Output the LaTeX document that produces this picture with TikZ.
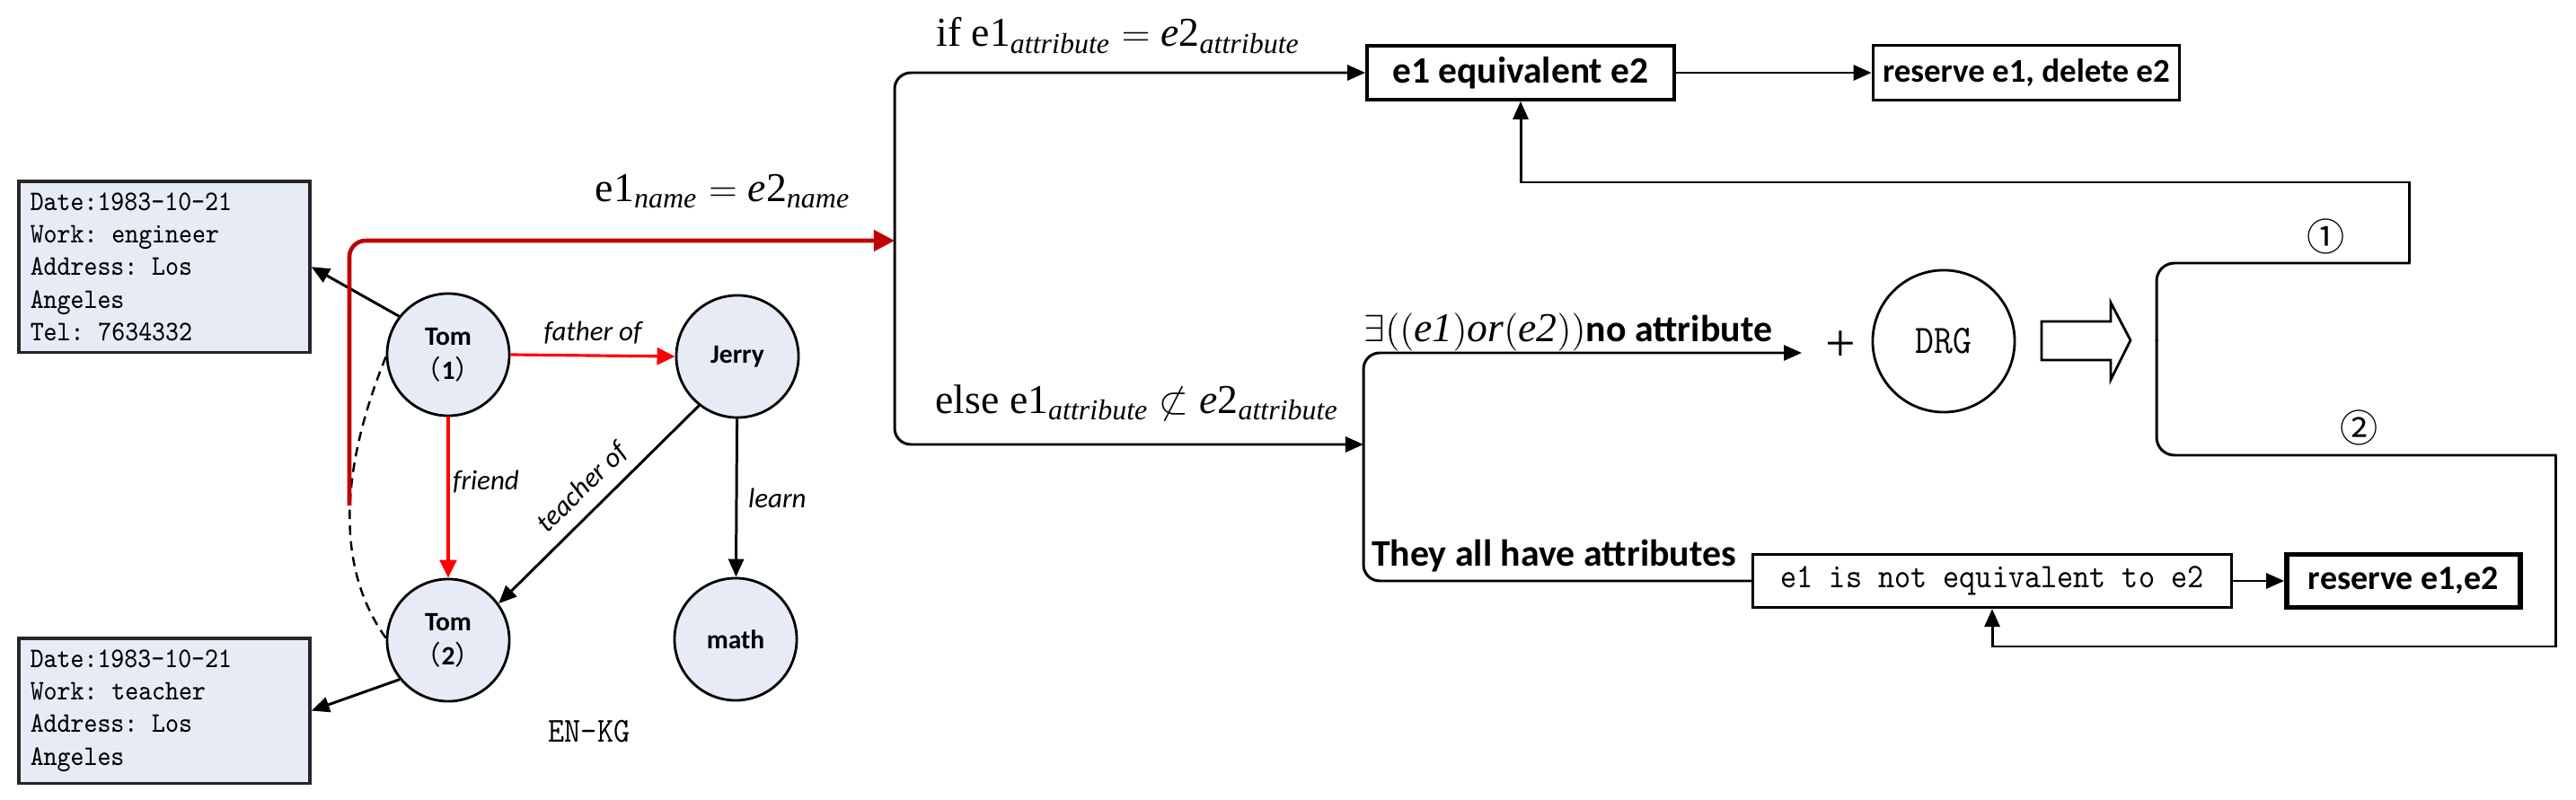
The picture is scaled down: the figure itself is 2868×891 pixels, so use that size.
\documentclass[tikz,border=0pt]{standalone}
\usepackage{fontspec}
\setmainfont{Liberation Serif}
\newfontfamily\calib{Carlito}
\newfontfamily\monoc[FakeStretch=0.9]{Latin Modern Mono}
\newfontfamily\cjk{Noto Sans CJK SC}
\usetikzlibrary{arrows.meta}
\definecolor{nodefill}{RGB}{231,235,246}
\definecolor{darkred}{RGB}{192,0,0}
\tikzset{
  ent/.style={circle,draw,line width=0.8pt,fill=nodefill,minimum size=1.36cm,inner sep=0pt,
    font=\calib\bfseries\fontsize{8.4}{10.8}\selectfont,align=center},
  info/.style={draw=black!85,line width=1pt,fill=nodefill,text width=2.98cm,inner sep=0.13cm,
    align=left,font=\monoc\fontsize{9}{10.3}\selectfont,anchor=north west},
  tip/.style={-{Triangle[length=0.2cm,width=0.17cm]}},
  edgeline/.style={line width=0.85pt,tip},
  redge/.style={line width=0.9pt,red,-{Triangle[length=0.2cm,width=0.19cm]}},
  elab/.style={text=black,font=\calib\itshape\fontsize{8.8}{10}\selectfont},
  flow/.style={line width=0.85pt},
  fbox/.style={draw,line width=1pt,minimum height=0.6cm,inner sep=0pt},
  mlab/.style={font=\fontsize{13}{15}\selectfont,anchor=base,inner sep=0pt},
  blab/.style={font=\calib\bfseries\fontsize{11.9}{13}\selectfont,anchor=base,inner sep=0pt},
}
\begin{document}
\begin{tikzpicture}[x=0.01cm,y=-0.01cm]
\useasboundingbox (0,0) rectangle (2868,891);

% ---------- knowledge graph ----------
\node[ent] (t1) at (499,395) {Tom\\{\cjk\mdseries （}1{\cjk\mdseries ）}};
\node[ent] (jerry) at (821,397) {Jerry};
\node[ent] (t2) at (499,713) {Tom\\{\cjk\mdseries （}2{\cjk\mdseries ）}};
\node[ent] (math) at (819,712) {math};

\node[info] (b1) at (19,200) {Date:1983-10-21\\Work: engineer\\Address: Los\\Angeles\\Tel: 7634332};
\node[info] (b2) at (19,709) {Date:1983-10-21\\Work: teacher\\Address: Los\\Angeles};
\node[font=\monoc\fontsize{11.1}{12}\selectfont] (enkg) at (656,815) {EN-KG};

\draw[edgeline] (t1.142) -- (b1.east);
\draw[edgeline] (t2.219) -- (b2.east);
\draw[redge] (t1.east) -- node[elab,above]{father of} (jerry.west);
\draw[redge] (t1) -- node[elab,right,pos=0.4,inner sep=1pt]{friend} (t2);
\draw[edgeline] (jerry.232) -- node[elab,sloped,above]{teacher of} (t2.36);
\draw[edgeline] (jerry) -- node[elab,right]{learn} (math);
\draw[dashed,dash pattern=on 3pt off 2pt,line width=0.7pt] (t1.182) .. controls (380,520) and (372,630) .. (t2.178);

% ---------- red main arrow ----------
\coordinate (rs) at (389,563);
\coordinate (b1m) at (996,268);
\draw[line width=1.3pt,darkred,rounded corners=0.18cm,-{Triangle[length=0.23cm,width=0.23cm]}] (rs) |- (b1m);
\node[mlab] (lname) at (805,225) {$\mathrm{e1}_{\mathit{name}} = \mathit{e}\mathrm{2}_{\mathit{name}}$};

% ---------- first decision ----------
\node[fbox,minimum width=3.42cm,font=\calib\bfseries\fontsize{11.8}{14}\selectfont] (eq) at (1693,81) {e1 equivalent e2};
\node[fbox,minimum width=3.41cm,minimum height=0.61cm,font=\calib\bfseries\fontsize{10.5}{12}\selectfont] (rd) at (2256,81) {reserve e1, delete e2};
\draw[flow,tip] (eq) -- (rd);

\coordinate (b2m) at (1518,495);
\draw[flow,rounded corners=0.18cm,tip] (b1m) |- (eq.west);
\draw[flow,rounded corners=0.18cm,tip] (b1m) |- (b2m);
\node[mlab] (lif) at (1245,52) {if $\mathrm{e1}_{\mathit{attribute}} = \mathit{e}\mathrm{2}_{\mathit{attribute}}$};
\node[mlab] (lelse) at (1266,460) {else $\mathrm{e1}_{\mathit{attribute}} \not\subset \mathit{e}\mathrm{2}_{\mathit{attribute}}$};

% ---------- second decision ----------
\coordinate (ex) at (2006,393);
\node[draw,line width=0.9pt,minimum width=5.33cm,minimum height=0.59cm,inner sep=0pt,
  font=\monoc\fontsize{10.9}{12}\selectfont] (neq) at (2218,647) {e1 is not equivalent to e2};
\node[fbox,line width=1.6pt,minimum width=2.6cm,minimum height=0.59cm,
  font=\calib\bfseries\fontsize{10.8}{12}\selectfont] (res) at (2676,647) {reserve e1,e2};
\draw[flow,tip] (neq) -- (res);

\draw[flow,rounded corners=0.18cm,tip] (b2m) |- (ex);
\draw[flow,rounded corners=0.18cm] (b2m) |- (neq.west);
\node[blab] (lexist) at (1746,381) {{\fontsize{13}{15}\selectfont\mdseries$\exists\bigl((\mathit{e1})\mathit{or}(\mathit{e2})\bigr)$}no attribute};
\node[blab] (lall) at (1730,630) {They all have attributes};

\node[font=\fontsize{17}{17}\selectfont] (plus) at (2049,386) {+};
\node[circle,draw,line width=0.8pt,minimum size=1.58cm,inner sep=0pt,
  font=\monoc\fontsize{12.8}{14}\selectfont] (drg) at (2164,380) {DRG};
\draw[line width=0.8pt,fill=white] (2273,358) -- (2350,358) -- (2350,337) -- (2372,379)
  -- (2350,423) -- (2350,401) -- (2273,401) -- cycle;

% ---------- result bracket ----------
\coordinate (b3m) at (2401,379);
\coordinate (c1) at (2682,293);
\coordinate (c2) at (2682,203);
\coordinate (c3) at (2845,507);
\coordinate (c4) at (2845,720);
\draw[flow,line cap=rect,rounded corners=0.2cm] (b3m) |- (c1);
\draw[flow,tip] (c1) -- (c2) -| (eq.south);
\draw[flow,line cap=rect,rounded corners=0.2cm] (b3m) |- (c3);
\draw[flow,tip] (c3) -- (c4) -| (neq.south);
\node[font=\cjk\fontsize{12}{13}\selectfont] (n1) at (2590,263) {①};
\node[font=\cjk\fontsize{12}{13}\selectfont] (n2) at (2627,476) {②};
\end{tikzpicture}
\end{document}
